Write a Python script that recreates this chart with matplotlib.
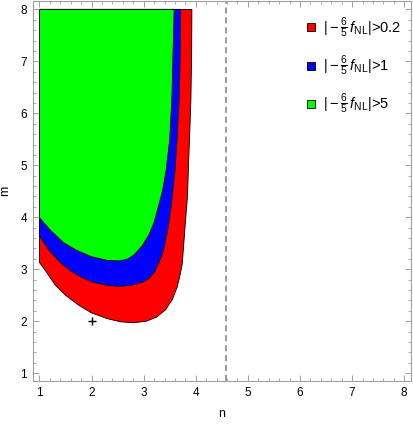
import numpy as np
import matplotlib
matplotlib.use("Agg")
import matplotlib.pyplot as plt
from matplotlib.patches import Polygon
from matplotlib.lines import Line2D
from matplotlib.ticker import MultipleLocator

plt.rcParams['font.family'] = ['Liberation Sans', 'DejaVu Sans']
plt.rcParams['mathtext.fontset'] = 'custom'
plt.rcParams['mathtext.rm'] = 'Liberation Sans'
plt.rcParams['mathtext.it'] = 'Liberation Sans:italic'

# region boundaries: lower curve from the left edge (n=1)
# round to the top of the plot range (m=8)
red_n = [1.0, 1.11, 1.3, 1.5, 1.75, 2.0, 2.3, 2.55, 2.8, 3.05, 3.25, 3.42, 3.55,
         3.64, 3.69, 3.74, 3.76, 3.8, 3.84, 3.86, 3.89, 3.906, 3.92, 3.925]
red_m = [3.13, 2.98, 2.70, 2.5, 2.31, 2.16, 2.05, 1.99, 1.97, 2.0, 2.08, 2.22, 2.42,
         2.65, 2.85, 3.1, 3.37, 3.9, 4.4, 5.0, 5.8, 6.26, 7.2, 8.0]

blue_n = [1.0, 1.2, 1.4, 1.6, 1.8, 2.0, 2.25, 2.5, 2.75, 2.95, 3.1, 3.22, 3.32,
          3.38, 3.45, 3.5, 3.54, 3.6, 3.64, 3.68, 3.70, 3.71]
blue_m = [3.64, 3.35, 3.13, 2.97, 2.85, 2.76, 2.70, 2.67, 2.69, 2.74, 2.82, 2.97, 3.2,
          3.37, 3.7, 4.0, 4.33, 4.9, 5.5, 6.26, 7.1, 8.0]

green_n = [1.0, 1.2, 1.45, 1.7, 2.0, 2.3, 2.55, 2.7, 2.82, 2.97, 3.1, 3.2, 3.28,
           3.36, 3.43, 3.5, 3.54, 3.56, 3.585]
green_m = [3.99, 3.76, 3.52, 3.37, 3.24, 3.17, 3.16, 3.2, 3.28, 3.45, 3.66, 3.9, 4.2,
           4.5, 4.9, 5.5, 6.26, 7.03, 8.0]

regions = [(red_n, red_m, '#ff0000', r'$|-\frac{6}{5}\,f_{\mathrm{NL}}|$>0.2'),
           (blue_n, blue_m, '#0000ff', r'$|-\frac{6}{5}\,f_{\mathrm{NL}}|$>1'),
           (green_n, green_m, '#00ff00', r'$|-\frac{6}{5}\,f_{\mathrm{NL}}|$>5')]

n_dashed = 4.57
point_n, point_m = [2.0], [2.0]

fig = plt.figure(figsize=(4.13, 4.25), dpi=100)
ax = fig.add_axes([0.0792, 0.1035, 0.916, 0.894])

handles = []
for xs, ys, col, lab in regions:
    pts = [(1.0, 8.0)] + list(zip(xs, ys))
    ax.add_patch(Polygon(pts, closed=True, facecolor=col, edgecolor='black', lw=0.6))
    handles.append(Line2D([], [], ls='none', marker='s', markersize=6,
                          markerfacecolor=col, markeredgecolor='black',
                          markeredgewidth=0.6, label=lab))

ax.axvline(n_dashed, color='#808080', ls=(0, (4, 2.5)), lw=1.1)
ax.plot(point_n, point_m, marker='+', color='black', ls='none', markersize=6, mew=1)

ax.set_xlim(0.87, 8.13)
ax.set_ylim(0.85, 8.16)
ax.xaxis.set_major_locator(MultipleLocator(1))
ax.yaxis.set_major_locator(MultipleLocator(1))
ax.xaxis.set_minor_locator(MultipleLocator(0.2))
ax.yaxis.set_minor_locator(MultipleLocator(0.2))
ax.tick_params(which='both', direction='in', top=True, right=True,
               color='#a0a0a0', labelsize=8.5, labelcolor='black')
ax.tick_params(which='major', length=4, width=0.7, pad=4)
ax.tick_params(which='minor', length=2, width=0.6)
for sp in ax.spines.values():
    sp.set_color('#a0a0a0')
    sp.set_linewidth(0.8)

ax.set_xlabel('n', fontsize=9, labelpad=7)
ax.set_ylabel('m', fontsize=9, labelpad=7)

ax.legend(handles=handles, loc='upper right', frameon=False, fontsize=10.5,
          labelspacing=0.95, handlelength=0.8, handletextpad=0.4,
          borderaxespad=0.3, bbox_to_anchor=(1.0, 0.99))

fig.savefig('out.png', dpi=100)
